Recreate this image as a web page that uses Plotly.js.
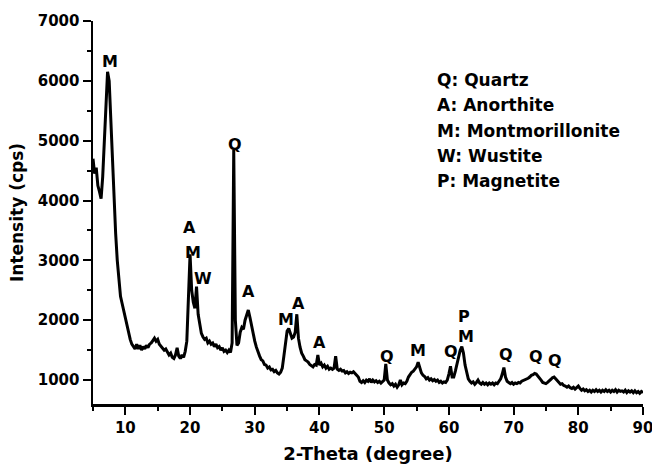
<!DOCTYPE html>
<html>
<head>
<meta charset="utf-8">
<script src="https://cdn.plot.ly/plotly-3.0.1.min.js"></script>
<style>html,body{margin:0;padding:0;background:#fff;}#chart{width:652px;height:464px;}</style>
</head>
<body>
<div id="chart"></div>
<script>
const twoTheta = [
5.00,5.25,5.50,5.75,6.00,6.25,6.50,6.75,7.00,7.25,7.50,7.75,8.00,8.25,8.50,8.75,9.00,9.25,9.50,9.75,
10.00,10.25,10.50,10.75,11.00,11.25,11.50,11.75,12.00,12.25,12.50,12.75,13.00,13.25,13.50,13.75,14.00,14.25,14.50,14.75,
15.00,15.25,15.50,15.75,16.00,16.25,16.50,16.75,17.00,17.25,17.50,17.75,18.00,18.25,18.50,18.75,19.00,19.25,19.50,19.75,
20.00,20.25,20.50,20.75,21.00,21.25,21.50,21.75,22.00,22.25,22.50,22.75,23.00,23.25,23.50,23.75,24.00,24.25,24.50,24.75,
25.00,25.25,25.50,25.75,26.00,26.25,26.50,26.75,27.00,27.25,27.50,27.75,28.00,28.25,28.50,28.75,29.00,29.25,29.50,29.75,
30.00,30.25,30.50,30.75,31.00,31.25,31.50,31.75,32.00,32.25,32.50,32.75,33.00,33.25,33.50,33.75,34.00,34.25,34.50,34.75,
35.00,35.25,35.50,35.75,36.00,36.25,36.50,36.75,37.00,37.25,37.50,37.75,38.00,38.25,38.50,38.75,39.00,39.25,39.50,39.75,
40.00,40.25,40.50,40.75,41.00,41.25,41.50,41.75,42.00,42.25,42.50,42.75,43.00,43.25,43.50,43.75,44.00,44.25,44.50,44.75,
45.00,45.25,45.50,45.75,46.00,46.25,46.50,46.75,47.00,47.25,47.50,47.75,48.00,48.25,48.50,48.75,49.00,49.25,49.50,49.75,
50.00,50.25,50.50,50.75,51.00,51.25,51.50,51.75,52.00,52.25,52.50,52.75,53.00,53.25,53.50,53.75,54.00,54.25,54.50,54.75,
55.00,55.25,55.50,55.75,56.00,56.25,56.50,56.75,57.00,57.25,57.50,57.75,58.00,58.25,58.50,58.75,59.00,59.25,59.50,59.75,
60.00,60.25,60.50,60.75,61.00,61.25,61.50,61.75,62.00,62.25,62.50,62.75,63.00,63.25,63.50,63.75,64.00,64.25,64.50,64.75,
65.00,65.25,65.50,65.75,66.00,66.25,66.50,66.75,67.00,67.25,67.50,67.75,68.00,68.25,68.50,68.75,69.00,69.25,69.50,69.75,
70.00,70.25,70.50,70.75,71.00,71.25,71.50,71.75,72.00,72.25,72.50,72.75,73.00,73.25,73.50,73.75,74.00,74.25,74.50,74.75,
75.00,75.25,75.50,75.75,76.00,76.25,76.50,76.75,77.00,77.25,77.50,77.75,78.00,78.25,78.50,78.75,79.00,79.25,79.50,79.75,
80.00,80.25,80.50,80.75,81.00,81.25,81.50,81.75,82.00,82.25,82.50,82.75,83.00,83.25,83.50,83.75,84.00,84.25,84.50,84.75,
85.00,85.25,85.50,85.75,86.00,86.25,86.50,86.75,87.00,87.25,87.50,87.75,88.00,88.25,88.50,88.75,89.00,89.25,89.50,89.75,
90.00
];
const intensity = [
4700,4450,4550,4250,4150,4030,4400,5000,5700,6150,6000,5300,4600,3950,3450,3000,2650,2400,2280,2150,
2080,1950,1780,1680,1600,1560,1520,1600,1520,1580,1500,1560,1520,1580,1540,1600,1620,1660,1700,1650,
1680,1600,1560,1540,1500,1520,1460,1420,1450,1380,1360,1420,1540,1400,1360,1420,1380,1480,1650,2400,
3100,2500,2300,2200,2560,2100,1900,1780,1720,1680,1700,1620,1650,1600,1620,1560,1600,1540,1560,1500,
1540,1480,1500,1460,1500,1460,1620,4850,2000,1580,1620,1800,1880,1850,2000,2100,2170,2050,1900,1800,
1650,1550,1460,1400,1340,1320,1260,1250,1200,1220,1170,1180,1140,1160,1120,1100,1130,1200,1400,1650,
1820,1860,1780,1700,1720,1800,2100,1700,1550,1450,1400,1340,1320,1300,1260,1240,1220,1260,1250,1420,
1250,1280,1220,1250,1200,1230,1180,1200,1180,1200,1400,1180,1160,1180,1150,1160,1120,1140,1110,1130,
1120,1140,1100,1080,1050,980,960,990,960,1000,980,1020,960,1000,970,990,960,980,950,980,
1000,1270,1000,950,920,940,900,930,880,920,1000,920,950,940,980,1050,1100,1130,1150,1180,
1220,1300,1200,1120,1080,1060,1020,1040,1000,1020,990,1010,980,1000,960,980,950,970,960,1000,
1100,1230,1050,1050,1150,1280,1400,1500,1560,1450,1250,1100,1020,980,950,970,930,960,1000,950,
930,960,930,950,920,950,930,950,920,950,940,980,1020,1100,1210,1050,980,960,940,960,
930,950,940,960,950,980,990,1000,1020,1030,1050,1080,1090,1110,1100,1070,1030,1000,960,950,
940,960,980,1010,1040,1050,1020,990,960,930,940,910,900,880,900,870,860,880,850,880,
900,860,830,850,820,840,810,830,800,830,810,840,810,830,800,830,810,840,810,830,
800,830,810,840,800,830,810,820,800,830,790,820,800,820,790,820,790,810,780,810,
790
];
const peakLabels = ["M","Q","A","M","W","A","M","A","A","Q","M","Q","P","M","Q","Q","Q"];
const peakX = [7.6,27.0,19.9,20.5,22.0,29.1,34.9,36.7,40.0,50.5,55.3,60.4,62.3,62.6,68.9,73.4,76.4];
const peakY = [6320,4930,3550,3130,2700,2480,2020,2280,1630,1400,1500,1480,2070,1730,1430,1400,1330];
const legendLines = ["Q: Quartz","A: Anorthite","M: Montmorillonite","W: Wustite","P: Magnetite"];
const legendY = [6020,5590,5170,4750,4330];

const FONT = "DejaVu Sans";
const annotations = [];
peakLabels.forEach((t,i)=>annotations.push({x:peakX[i],y:peakY[i],text:"<b>"+t+"</b>",showarrow:false,
  xanchor:"center",yanchor:"middle",font:{family:FONT,size:16,color:"#000"}}));
legendLines.forEach((t,i)=>annotations.push({x:57.8,y:legendY[i],text:"<b>"+t+"</b>",showarrow:false,
  xanchor:"left",yanchor:"middle",font:{family:FONT,size:17,color:"#000"}}));

const trace = {x:twoTheta,y:intensity,type:"scatter",mode:"lines",line:{color:"#000",width:3},hoverinfo:"skip"};
const axisCommon = {showline:true,linecolor:"#000",linewidth:2.5,ticks:"outside",ticklen:8,tickwidth:2,tickcolor:"#000",
  showgrid:false,zeroline:false,mirror:false,ticklabeloverflow:"allow"};
const layout = {
  width:652,height:464,margin:{l:93,r:9,t:21,b:60},paper_bgcolor:"#fff",plot_bgcolor:"#fff",showlegend:false,
  font:{family:FONT,color:"#000"},
  xaxis:Object.assign({},axisCommon,{range:[5,90],tick0:0,dtick:10,
    minor:{dtick:5,tick0:0,ticklen:4,tickwidth:2,tickcolor:"#000",ticks:"outside"},
    tickfont:{family:FONT,size:15,color:"#000",weight:700},
    title:{text:"<b>2-Theta (degree)</b>",font:{family:FONT,size:18,color:"#000"},standoff:14}}),
  yaxis:Object.assign({},axisCommon,{range:[600,7000],tick0:0,dtick:1000,
    minor:{dtick:500,tick0:0,ticklen:4,tickwidth:2,tickcolor:"#000",ticks:"outside"},
    tickfont:{family:FONT,size:15,color:"#000",weight:700},
    title:{text:"<b>Intensity (cps)</b>",font:{family:FONT,size:17,color:"#000"},standoff:10}}),
  annotations:annotations
};
Plotly.newPlot("chart",[trace],layout,{staticPlot:true,displayModeBar:false});
</script>
</body>
</html>
